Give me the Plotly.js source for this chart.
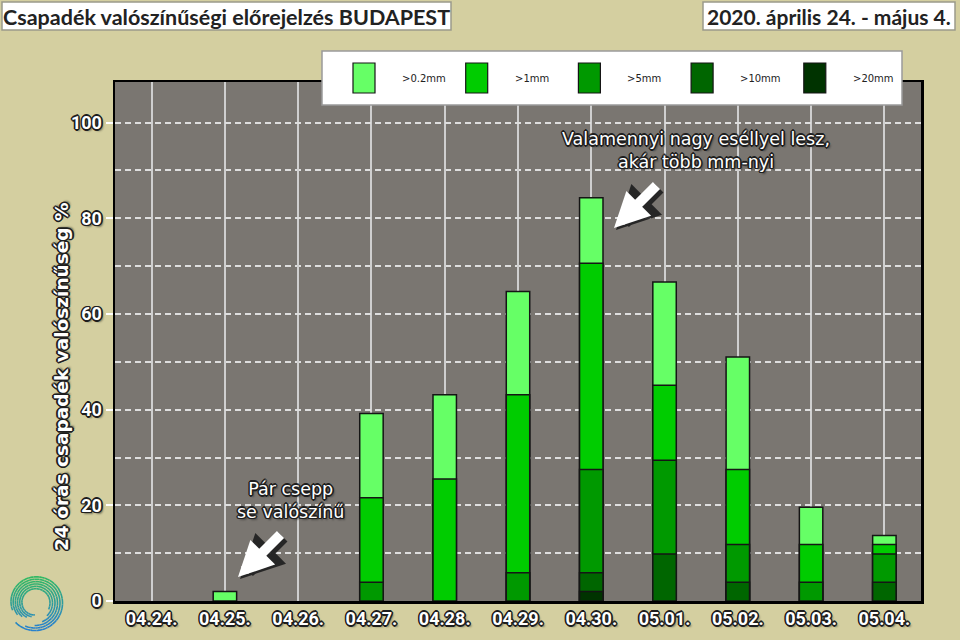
<!DOCTYPE html>
<html>
<head>
<meta charset="utf-8">
<script src="https://cdn.plot.ly/plotly-3.0.1.min.js"></script>
<style>html,body{margin:0;padding:0;background:#d4cfa0;}#chart{width:960px;height:640px;}</style>
</head>
<body>
<div id="chart"></div>
<script>
// ---- data ----
const categories = ['04.24.', '04.25.', '04.26.', '04.27.', '04.28.', '04.29.', '04.30.', '05.01.', '05.02.', '05.03.', '05.04.'];
const seriesNames = ['>0.2mm', '>1mm', '>5mm', '>10mm', '>20mm'];
const seriesColors = ['#66ff66', '#00cc00', '#009900', '#006600', '#003300'];
const over02mm = [0, 2.0, 0, 39.2, 43.1, 64.7, 84.3, 66.7, 51.0, 19.6, 13.7];
const over1mm  = [0, 0, 0, 21.6, 25.5, 43.1, 70.6, 45.1, 27.5, 11.8, 11.8];
const over5mm  = [0, 0, 0, 3.9, 0, 5.9, 27.5, 29.4, 11.8, 3.9, 9.8];
const over10mm = [0, 0, 0, 0, 0, 0, 5.9, 9.8, 3.9, 0, 3.9];
const over20mm = [0, 0, 0, 0, 0, 0, 2.0, 0, 0, 0, 0];
const yTickVals = [0, 20, 40, 60, 80, 100];
const titleText = 'Csapadék valószínűségi előrejelzés BUDAPEST';
const dateText = '2020. április 24. - május 4.';
const yTitleText = '24 órás csapadék valószínűség %';
const note1 = 'Pár csepp<br>se valószínű';
const note2 = 'Valamennyi nagy eséllyel lesz,<br>akár több mm-nyi';

// ---- layout helpers (pixel -> paper) ----
const L = 115, R = 921, T = 82, B = 601;
const PX = px => (px - L) / (R - L);
const PY = py => (B - py) / (B - T);

const OUT = '#1e1e1e -1px -1px 0, #1e1e1e 1px -1px 0, #1e1e1e -1px 1px 0, #1e1e1e 1px 1px 0, #1e1e1e 0 -1.6px 0, #1e1e1e 0 1.6px 0, #1e1e1e -1.6px 0 0, #1e1e1e 1.6px 0 0, rgba(0,0,0,0.45) 2px 2px 2px';

const seriesValues = [over02mm, over1mm, over5mm, over10mm, over20mm];
const traces = seriesNames.map((name, i) => ({
  type: 'bar',
  name: name,
  x: categories,
  y: seriesValues[i].map(v => (v > 0 ? v : null)),
  width: 0.32,
  marker: {color: seriesColors[i], line: {color: '#151515', width: 1.5}},
  hoverinfo: 'x+y+name'
}));

const shapes = [];
const annotations = [];

// title boxes
shapes.push({type: 'rect', xref: 'paper', yref: 'paper', x0: PX(2), x1: PX(451), y0: PY(2), y1: PY(30),
  fillcolor: '#ffffff', line: {color: '#9a9a8a', width: 1.5}, layer: 'above'});
shapes.push({type: 'rect', xref: 'paper', yref: 'paper', x0: PX(703), x1: PX(955), y0: PY(2), y1: PY(30),
  fillcolor: '#ffffff', line: {color: '#9a9a8a', width: 1.5}, layer: 'above'});
annotations.push({xref: 'paper', yref: 'paper', x: PX(226.5), y: PY(16.5), text: titleText, showarrow: false,
  xanchor: 'center', yanchor: 'middle', font: {family: 'Lato', size: 21.5, color: '#222', weight: 700}});
annotations.push({xref: 'paper', yref: 'paper', x: PX(829), y: PY(16.5), text: dateText, showarrow: false,
  xanchor: 'center', yanchor: 'middle', font: {family: 'Lato', size: 21, color: '#222', weight: 700}});

// legend box
shapes.push({type: 'rect', xref: 'paper', yref: 'paper', x0: PX(322), x1: PX(902), y0: PY(51), y1: PY(105),
  fillcolor: '#ffffff', line: {color: '#9a9a9a', width: 1.5}, layer: 'above'});
seriesNames.forEach((name, i) => {
  const sx = 353 + i * 112.7;
  shapes.push({type: 'rect', xref: 'paper', yref: 'paper', x0: PX(sx), x1: PX(sx + 22), y0: PY(63), y1: PY(93),
    fillcolor: seriesColors[i], line: {color: '#151515', width: 1.2}, layer: 'above'});
  annotations.push({xref: 'paper', yref: 'paper', x: PX(sx + 47), y: PY(79), text: name, showarrow: false,
    xanchor: 'left', yanchor: 'middle', font: {family: 'DejaVu Sans', size: 10, color: '#222'}});
});

// y axis title
annotations.push({xref: 'paper', yref: 'paper', x: PX(61), y: PY(377), text: yTitleText, textangle: -90, showarrow: false,
  xanchor: 'center', yanchor: 'middle', font: {family: 'DejaVu Sans', size: 18.5, color: '#fff', weight: 700, shadow: OUT}});

// notes
annotations.push({xref: 'paper', yref: 'paper', x: PX(290), y: PY(500), text: note1, showarrow: false,
  xanchor: 'center', yanchor: 'middle', font: {family: 'DejaVu Sans', size: 17.5, color: '#fff', shadow: OUT}});
annotations.push({xref: 'paper', yref: 'paper', x: PX(696), y: PY(150), text: note2, showarrow: false,
  xanchor: 'center', yanchor: 'middle', font: {family: 'DejaVu Sans', size: 17.5, color: '#fff', shadow: OUT}});

// arrows (dark outline then white)
function arrow(tipX, tipY, dx, dy) {
  annotations.push({xref: 'paper', yref: 'paper', x: PX(tipX + 2), y: PY(tipY + 2), ax: dx, ay: dy, text: '',
    showarrow: true, arrowhead: 2, arrowsize: 0.62, arrowwidth: 14, arrowcolor: 'rgba(30,30,30,0.9)'});
  annotations.push({xref: 'paper', yref: 'paper', x: PX(tipX), y: PY(tipY), ax: dx, ay: dy, text: '',
    showarrow: true, arrowhead: 2, arrowsize: 0.7, arrowwidth: 10, arrowcolor: '#ffffff'});
}
arrow(238, 577, 44, -44);
arrow(614, 228, 44, -44);

// logo spiral (decorative)
(function () {
  const cx = 35, cy = 603;
  const c0 = [40, 130, 205], c1 = [50, 185, 100];
  for (let k = 0; k < 6; k++) {
    const a0 = 225 + k * 22, a1 = 560 + k * 14;
    const step = 12;
    for (let a = a0; a < a1; a += step) {
      const pts = [];
      for (let b = a; b <= Math.min(a + step, a1); b += 3) {
        const t = (b - 225) / 480;
        const r = (27.5 - k * 2.5) * (1 - 0.42 * Math.max(0, t - 0.35));
        const rad = b * Math.PI / 180;
        pts.push([cx + r * Math.cos(rad), cy - r * Math.sin(rad)]);
      }
      if (pts.length < 2) continue;
      const my = pts[0][1];
      const f = Math.min(1, Math.max(0, (628 - my) / 50));
      const col = 'rgb(' + c0.map((v, j) => Math.round(v + (c1[j] - v) * f)).join(',') + ')';
      const path = pts.map((p, j) => (j ? 'L' : 'M') + PX(p[0]).toFixed(5) + ',' + PY(p[1]).toFixed(5)).join(' ');
      shapes.push({type: 'path', xref: 'paper', yref: 'paper', path: path, line: {color: col, width: 1.6}, layer: 'above'});
    }
  }
})();

const layout = {
  width: 960, height: 640,
  margin: {l: L, r: 960 - R, t: T, b: 640 - B, pad: 0},
  paper_bgcolor: '#d4cfa0',
  plot_bgcolor: '#7a7671',
  barmode: 'overlay',
  showlegend: false,
  xaxis: {
    type: 'category', range: [-0.5, 10.5],
    showgrid: true, gridcolor: '#cfcfcf', gridwidth: 2,
    showline: true, linecolor: '#000', linewidth: 2.5, mirror: true,
    ticks: '', tickfont: {family: 'Roboto', size: 18, color: '#fff', weight: 700, shadow: OUT},
    fixedrange: true
  },
  yaxis: {
    range: [0, 108.5], tickvals: yTickVals, ticktext: yTickVals.map(String),
    showgrid: true, gridcolor: '#dedede', gridwidth: 2, griddash: '6px,4px',
    minor: {dtick: 10, tick0: 0, showgrid: true, gridcolor: '#dedede', gridwidth: 2, griddash: '6px,4px', ticks: ''},
    showline: true, linecolor: '#000', linewidth: 2.5, mirror: true,
    ticks: 'outside', ticklen: 7, tickwidth: 2, tickcolor: '#fff',
    tickfont: {family: 'Roboto', size: 18, color: '#fff', weight: 700, shadow: OUT},
    zeroline: false, fixedrange: true
  },
  shapes: shapes,
  annotations: annotations
};

Plotly.newPlot('chart', traces, layout, {displayModeBar: false, staticPlot: true});
</script>
</body>
</html>
